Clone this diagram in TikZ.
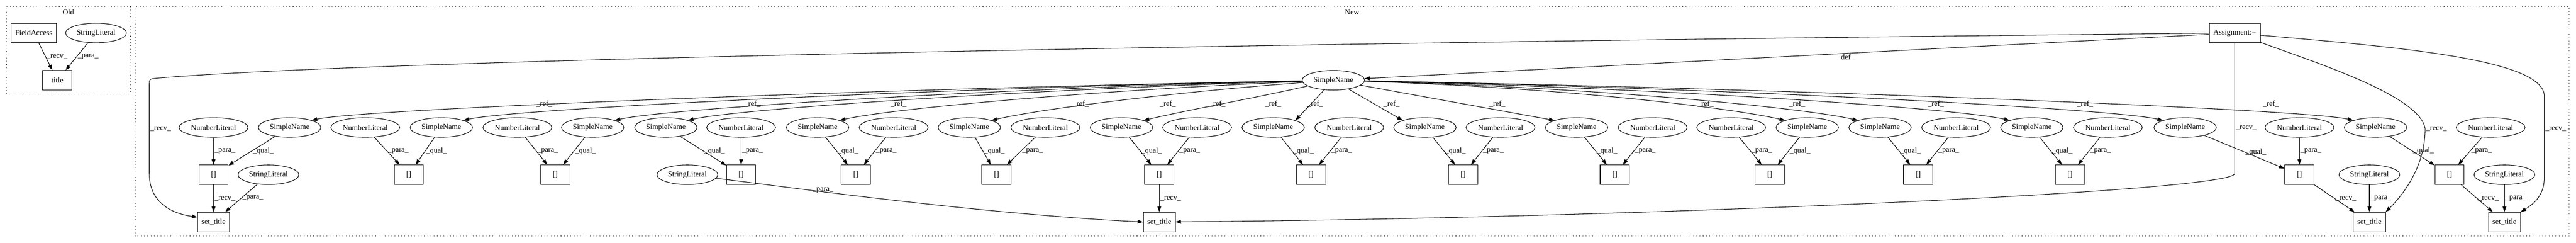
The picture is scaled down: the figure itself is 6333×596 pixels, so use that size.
\documentclass[tikz,border=0pt]{standalone}
\usepackage{fontspec}
\setmainfont{Liberation Serif}
\usetikzlibrary{shapes.geometric,arrows.meta}
\begin{document}
\begin{tikzpicture}[x=0.75pt,y=0.75pt,line width=1pt,
		every node/.style={font=\fontsize{14}{16}\selectfont},
		ell/.style={draw,ellipse,inner sep=1pt,minimum height=36pt,minimum width=#1},
		box/.style={draw,rectangle,minimum height=36pt,minimum width=#1},
		lbl/.style={inner sep=1.5pt},
		link/.style={-{Triangle[length=10pt,width=7pt]}},
		cluster/.style={dash pattern=on 1pt off 5pt}]
		\useasboundingbox (0,0) rectangle (6333,596);
		\draw[cluster] (16,365) rectangle (321,580);
		\draw[cluster] (332,16) rectangle (6316,580);
		\node (old) at (168,566) {Old};
		\node (new) at (3324,566) {New};
		% Old
		\node[box=84pt] (fa) at (83,515) {FieldAccess};
		\node[ell=112pt] (osl) at (236,515) {StringLiteral};
		\node[box=54pt] (title) at (141,399) {title};
		\draw[link] (fa) -- node[lbl,right]{\_recv\_} (title);
		\draw[link] (osl) -- node[lbl,right]{\_para\_} (title);
		% New
		\node[box=94pt] (asg) at (5494,515) {Assignment:=};
		\node[ell=115pt] (top) at (3278,399) {SimpleName};
		\foreach \k/\s/\n/\b in {1/712/525/525, 2/1085/898/1005, 3/1457/1272/1365, 4/1637/1822/1822, 5/2010/2197/2104, 6/2383/2570/2450, 7/2757/2943/2850, 8/3130/3317/3223, 9/3503/3689/3597, 10/3876/4063/3970, 11/4443/4256/4351, 12/4622/4809/4716, 13/4995/5182/5089, 14/5372/5653/5653, 15/5840/6123/6022}{
			\node[ell=115pt] (s\k) at (\s,283) {SimpleName};
			\node[ell=127pt] (n\k) at (\n,283) {NumberLiteral};
			\node[box=54pt] (b\k) at (\b,167) {[]};
			\draw[link] (s\k) -- node[lbl,right]{\_qual\_} (b\k);
			\draw[link] (n\k) -- node[lbl,right]{\_para\_} (b\k);
		}
		\foreach \k/\a/\c/\lx in {1/1100/20/1338, 2/1000/20/1850, 3/850/20/2209, 4/750/22/2657, 5/600/25/2871, 6/400/30/2993, 7/200/45/3130}{
			\draw[link] (top) .. controls +(-\a,-\c) and +(120,28) .. (s\k.north east);
			\node[lbl] (r\k) at (\lx,341) {\_ref\_};
		}
		\foreach \k/\a/\c/\lx in {11/600/20/4193, 12/700/20/4418, 13/850/20/4759, 14/1000/20/5126, 15/1100/20/5583}{
			\draw[link] (top) .. controls +(\a,-\c) and +(-120,28) .. (s\k.north west);
			\node[lbl] (r\k) at (\lx,341) {\_ref\_};
		}
		\foreach \k/\t/\lx in {8/s8.north east/3233, 9/s9.north west/3421, 10/s10.north west/3681}{
			\draw[link] (top) -- (\t);
			\node[lbl] (r\k) at (\lx,341) {\_ref\_};
		}
		\draw[link] (asg) -- node[lbl,pos=0.43,below]{\_def\_} (top);
		\node[ell=112pt] (sl1) at (660,167) {StringLiteral};
		\node[ell=112pt] (sl2) at (1690,167) {StringLiteral};
		\node[ell=112pt] (sl3) at (5825,167) {StringLiteral};
		\node[ell=112pt] (sl4) at (6157,167) {StringLiteral};
		\node[box=59pt] (st1) at (525,51) {set\_title};
		\node[box=59pt] (st2) at (2850,51) {set\_title};
		\node[box=59pt] (st3) at (5825,51) {set\_title};
		\node[box=59pt] (st4) at (6157,51) {set\_title};
		\draw[link] (b1) -- node[lbl,right]{\_recv\_} (st1);
		\draw[link] (sl1) -- node[lbl,right]{\_para\_} (st1);
		\draw[link] (b7) -- node[lbl,right]{\_recv\_} (st2);
		\draw[link] (sl2) .. controls +(260,-32) and +(-400,20) .. (st2.west) node[lbl,pos=0.3,right]{\_para\_};
		\draw[link] (b14) -- node[lbl,right]{\_recv\_} (st3);
		\draw[link] (sl3) -- node[lbl,right]{\_para\_} (st3);
		\draw[link] (b15) -- node[lbl,right]{\_recv\_} (st4);
		\draw[link] (sl4) -- node[lbl,right]{\_para\_} (st4);
		% Assignment receivers
		\draw[link] (asg) .. controls (3000,490) and (900,448) .. (385,404) .. controls (367,402) .. (367,388) -- node[lbl,right]{\_recv\_} (367,170) .. controls (367,100) and (420,72) .. ([yshift=9pt]st1.west);
		\draw[link] (asg) -- node[lbl,pos=0.65,right]{\_recv\_} (5494,170) .. controls (5494,125) and (4000,60) .. (st2);
		\draw[link] (asg) .. controls (5700,440) and (5950,360) .. (5962,280) node[lbl,right]{\_recv\_} .. controls (5962,180) and (5900,110) .. (st3.north east);
		\draw[link] (asg) .. controls (5900,480) and (6255,450) .. (6255,360) -- node[lbl,pos=0.4,right]{\_recv\_} (6255,160) .. controls (6255,110) and (6220,90) .. (st4.north east);
\end{tikzpicture}
\end{document}
